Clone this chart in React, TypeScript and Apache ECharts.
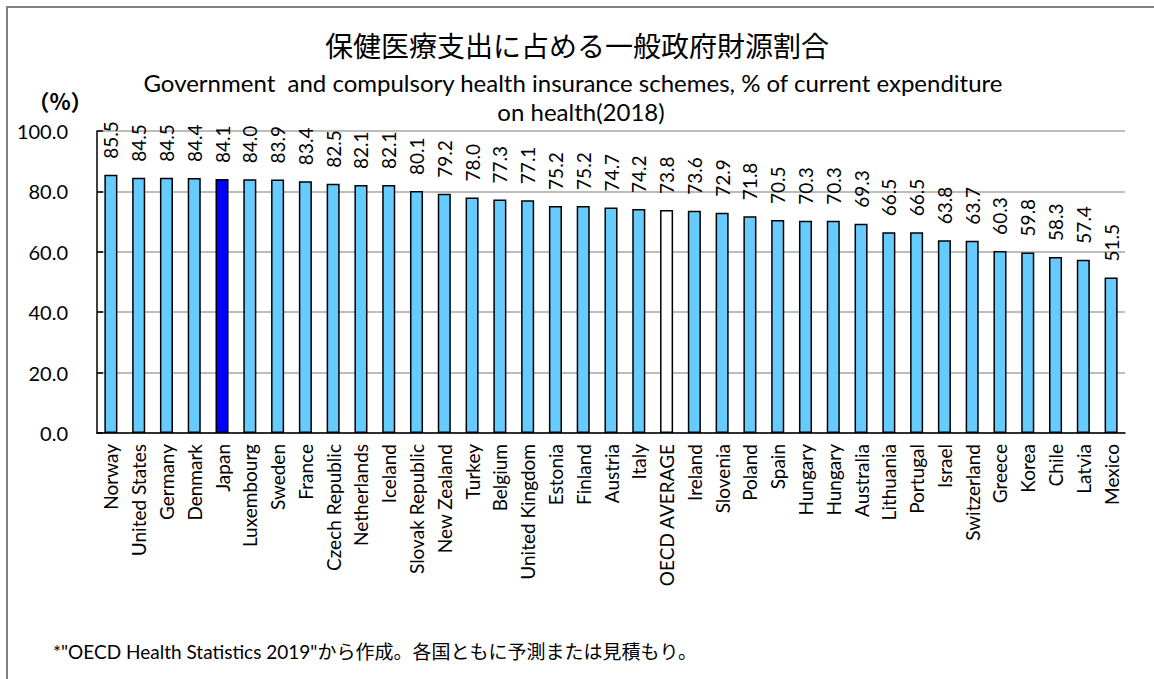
import React, { useEffect, useRef } from "react";
import * as echarts from "echarts";

const categories = [
  "Norway", "United States", "Germany", "Denmark", "Japan", "Luxembourg", "Sweden", "France",
  "Czech Republic", "Netherlands", "Iceland", "Slovak Republic", "New Zealand", "Turkey", "Belgium",
  "United Kingdom", "Estonia", "Finland", "Austria", "Italy", "OECD AVERAGE", "Ireland", "Slovenia",
  "Poland", "Spain", "Hungary", "Hungary", "Australia", "Lithuania", "Portugal", "Israel",
  "Switzerland", "Greece", "Korea", "Chile", "Latvia", "Mexico",
];
const values = [
  85.5, 84.5, 84.5, 84.4, 84.1, 84.0, 83.9, 83.4, 82.5, 82.1, 82.1, 80.1, 79.2, 78.0, 77.3, 77.1,
  75.2, 75.2, 74.7, 74.2, 73.8, 73.6, 72.9, 71.8, 70.5, 70.3, 70.3, 69.3, 66.5, 66.5, 63.8, 63.7,
  60.3, 59.8, 58.3, 57.4, 51.5,
];
const yTicks = [0, 20, 40, 60, 80, 100];

const titleText = "保健医療支出に占める一般政府財源割合";
const subtitleLine1 = "Government  and compulsory health insurance schemes, % of current expenditure";
const subtitleLine2 = "on health(2018)";
const unitText = "（%）";
const noteText = '*"OECD Health Statistics 2019"から作成。各国ともに予測または見積もり。';

const FONT = "Lato, 'Noto Sans CJK JP', sans-serif";

export default function App() {
  const ref = useRef<HTMLDivElement>(null);
  useEffect(() => {
    document.body.style.margin = "0";
    const chart = echarts.init(ref.current!, undefined, { renderer: "svg" });
    const colorFor = (name: string) =>
      name === "Japan" ? "#0000FF" : name === "OECD AVERAGE" ? "#FFFFFF" : "#66CCFF";
    chart.setOption({
      animation: false,
      backgroundColor: "#ffffff",
      textStyle: { fontFamily: FONT },
      graphic: [
        {
          type: "rect",
          shape: { x: 7, y: 7, width: 1200, height: 720 },
          style: { fill: "none", stroke: "#808080", lineWidth: 2 },
          silent: true,
        },
        {
          type: "text",
          x: 577,
          y: 45,
          style: { text: titleText, font: `28px 'Noto Sans CJK JP', sans-serif`, fill: "#000", align: "center", verticalAlign: "middle" },
        },
        {
          type: "text",
          x: 573,
          y: 82,
          style: { text: subtitleLine1, font: `24px ${FONT}`, fill: "#000", align: "center", verticalAlign: "middle" },
        },
        {
          type: "text",
          x: 581,
          y: 111,
          style: { text: subtitleLine2, font: `24px ${FONT}`, fill: "#000", align: "center", verticalAlign: "middle" },
        },
        {
          type: "text",
          x: 60,
          y: 100,
          style: { text: unitText, font: `bold 22px 'Noto Sans CJK JP', sans-serif`, fill: "#000", align: "center", verticalAlign: "middle" },
        },
        {
          type: "text",
          x: 53,
          y: 651,
          style: { text: noteText, font: `19px ${FONT}`, fill: "#000", verticalAlign: "middle" },
        },
      ],
      grid: { left: 97, right: 29, top: 131, bottom: 246 },
      xAxis: {
        type: "category",
        data: categories,
        axisLine: { lineStyle: { color: "#000", width: 1.5 } },
        axisTick: { inside: true, length: 6, lineStyle: { color: "#000", width: 1.5 } },
        axisLabel: {
          interval: 0,
          rotate: 90,
          margin: 11,
          fontSize: 19,
          color: "#000",
          fontFamily: FONT,
        },
      },
      yAxis: {
        type: "value",
        min: 0,
        max: 100,
        interval: 20,
        axisLine: { show: true, lineStyle: { color: "#000", width: 1.5 } },
        axisTick: { show: true, inside: true, length: 6, lineStyle: { color: "#000", width: 1.5 } },
        axisLabel: {
          fontSize: 20,
          color: "#000",
          margin: 29,
          fontFamily: FONT,
          formatter: (v: number) => (yTicks.includes(v) ? v.toFixed(1) : ""),
        },
        splitLine: { lineStyle: { color: "#A6A6A6", width: 1.5 } },
      },
      series: [
        {
          type: "bar",
          barWidth: "47%",
          data: values.map((v, i) => ({
            value: v,
            itemStyle: { color: colorFor(categories[i]), borderColor: "#000", borderWidth: 1.5 },
          })),
          label: {
            show: true,
            position: "top",
            rotate: 90,
            align: "left",
            verticalAlign: "middle",
            distance: 16,
            fontSize: 19,
            color: "#000",
            fontFamily: FONT,
            formatter: (p: any) => Number(p.value).toFixed(1),
          },
        },
      ],
    });
    return () => chart.dispose();
  }, []);
  return <div ref={ref} style={{ width: 1154, height: 679 }} />;
}
